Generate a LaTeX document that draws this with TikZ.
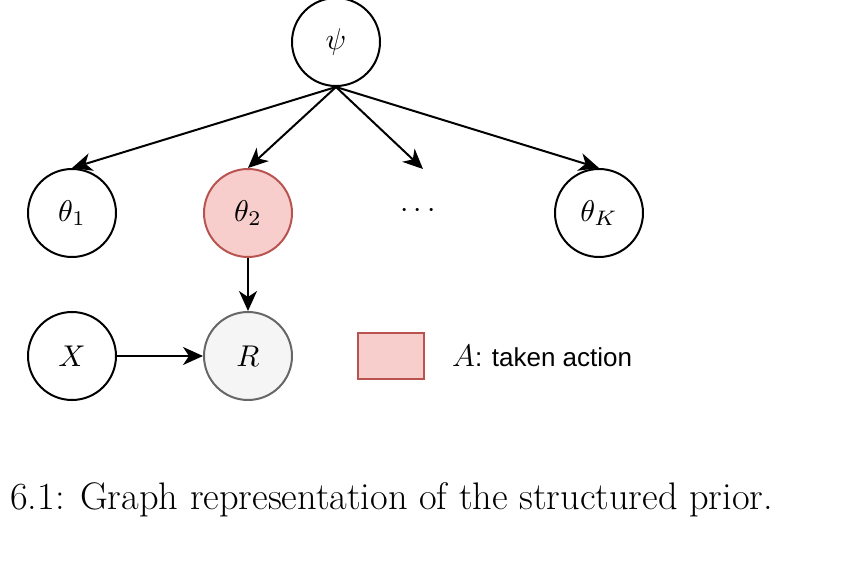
\documentclass[tikz,border=0pt]{standalone}
\usepackage{fontspec}
\newfontfamily\helv{Liberation Sans}
\usetikzlibrary{arrows.meta}
\definecolor{pinkfill}{HTML}{F8CECC}
\definecolor{pinkdraw}{HTML}{B85450}
\definecolor{greyfill}{HTML}{F5F5F5}
\definecolor{greydraw}{HTML}{666666}
\newcommand{\mth}[1]{\scalebox{3.0}{$#1$}}
\begin{document}
\begin{tikzpicture}[x=1pt,y=-1pt,
  var/.style={circle,draw=black,line width=2pt,minimum size=88pt,inner sep=0pt},
  act/.style={var,fill=pinkfill,draw=pinkdraw},
  obs/.style={var,fill=greyfill,draw=greydraw},
  edge/.style={line width=2pt,-{Stealth[length=20pt,width=18pt,inset=6pt]}}]
\useasboundingbox (0,0) rectangle (855,561);
\node[var] (psi) at (336,42) {\mth{\psi}};
\node[var] (t1) at (72,213) {\mth{\theta_1}};
\node[act] (t2) at (248,213) {\mth{\theta_2}};
\node[inner sep=0pt] (dots) at (418,211) {\mth{\cdots}};
\node[var] (tK) at (599,213) {\mth{\theta_K}};
\node[var] (X) at (72,356) {\mth{X}};
\node[obs] (R) at (248,356) {\mth{R}};
\node[draw=pinkdraw,fill=pinkfill,line width=2pt,minimum width=66pt,minimum height=46pt,inner sep=0pt] (leg) at (391,356) {};
\node[anchor=west,inner sep=0pt,font=\fontsize{26}{32}\selectfont\helv] (legt) at (452,356) {\scalebox{1.25}{$A$}: taken action};
\coordinate (top) at (psi.south);
\coordinate (dotstip) at (423,169);
\draw[edge] (top) -- (t1.north);
\draw[edge] (top) -- (t2.north);
\draw[edge] (top) -- (dotstip);
\draw[edge] (top) -- (tK.north);
\draw[edge] (t2) -- (R);
\draw[edge] (X) -- (R);
\node[anchor=base west,inner sep=0pt,font=\fontsize{38.4}{46}\selectfont] (cap) at (10,510) {6.1: Graph representation of the structured prior.};
\end{tikzpicture}
\end{document}
